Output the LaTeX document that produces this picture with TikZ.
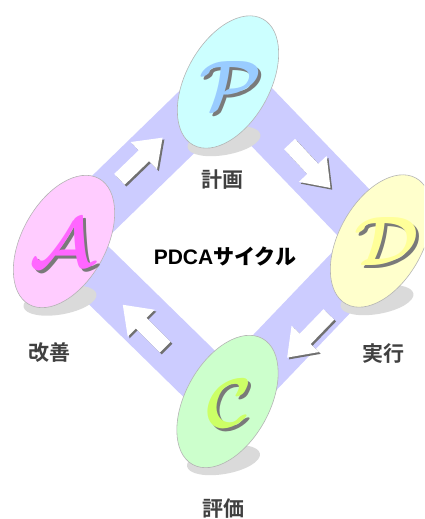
\RequirePackage{fix-cm}
\documentclass[tikz,border=0pt]{standalone}
\usepackage{fontspec}
\setmainfont{Liberation Sans}
\newfontfamily\jpfont{Noto Sans CJK JP Bold}
\usetikzlibrary{shapes.geometric}
\definecolor{bandcol}{HTML}{CCCCFF}
\definecolor{discline}{HTML}{B4B4B4}
\definecolor{groundcol}{HTML}{DADADA}
\definecolor{arrshadow}{HTML}{707070}
\definecolor{lettershadow}{HTML}{7A7A7A}
\definecolor{labelcol}{HTML}{404040}
\definecolor{pfill}{HTML}{CCFFFF}
\definecolor{afill}{HTML}{FFCCFF}
\definecolor{dfill}{HTML}{FFFFCC}
\definecolor{cfill}{HTML}{CCFFCC}
\definecolor{pletter}{HTML}{99CCFF}
\definecolor{aletter}{HTML}{FF66FF}
\definecolor{dletter}{HTML}{FFFF99}
\definecolor{cletter}{HTML}{CCFF66}
\tikzset{
  disc/.style={ellipse, draw=discline, line width=0.6pt, minimum width=84pt,
    minimum height=144pt, inner sep=0pt, rotate=-29},
  ground/.style={ellipse, fill=groundcol, minimum width=74pt, minimum height=28pt,
    inner sep=0pt, rotate=10},
  bigletter/.style={inner sep=0pt, font=\fontsize{70}{70}\selectfont\boldmath},
  steplabel/.style={text=labelcol, font=\jpfont\fontsize{21}{21}\selectfont, inner sep=0pt},
  titlelabel/.style={text=black, inner sep=0pt}
}
% letter with a grey drop shadow, #1 colour, #2 letter
\newcommand\shadowletter[2]{%
  \rlap{\hspace{3pt}\raisebox{-3pt}{\textcolor{lettershadow}{$\mathcal{#2}$}}}%
  \textcolor{#1}{$\mathcal{#2}$}}
\newcommand\blkarrow[2]{%
  \fill[arrshadow, shift={#1}, shift={(1.8,-1.8)}, rotate=#2]
    (-30,-7.5) -- (4,-7.5) -- (4,-19) -- (30,0) -- (4,19) -- (4,7.5) -- (-30,7.5) -- cycle;
  \fill[white, shift={#1}, rotate=#2]
    (-30,-7.5) -- (4,-7.5) -- (4,-19) -- (30,0) -- (4,19) -- (4,7.5) -- (-30,7.5) -- cycle;
}
\begin{document}
\begin{tikzpicture}[x=1pt, y=1pt]
\useasboundingbox (0,0) rectangle (424,519);
\clip (0,0) rectangle (424,519);
% coordinates of disc centres
\coordinate (Pc) at (228,437);
\coordinate (Dc) at (381,278);
\coordinate (Cc) at (227.5,117.5);
\coordinate (Ac) at (64,277.5);
% band
\draw[bandcol, line width=55pt, line join=miter] (Ac) -- (Pc) -- (Dc) -- (Cc) -- cycle;
% ground shadows
\node[ground] (Pg) at (224,378) {};
\node[ground] (Dg) at (377,219) {};
\node[ground] (Cg) at (223.5,59) {};
\node[ground] (Ag) at (60,218.5) {};
% block arrows
\blkarrow{(141,360.5)}{44}
\blkarrow{(310,353)}{-47}
\blkarrow{(308,183)}{-134}
\blkarrow{(144,193)}{135}
% discs
\node[disc, fill=pfill] (P) at (Pc) {};
\node[disc, fill=dfill] (D) at (Dc) {};
\node[disc, fill=cfill] (C) at (Cc) {};
\node[disc, fill=afill] (A) at (Ac) {};
% letters
\node[bigletter] (Pl) at ([xshift=3pt,yshift=-5pt]P.center) {\shadowletter{pletter}{P}};
\node[bigletter] (Dl) at ([xshift=6pt,yshift=-2pt]D.center) {\shadowletter{dletter}{D}};
\node[bigletter] (Cl) at ([xshift=2pt,yshift=-3pt]C.center) {\shadowletter{cletter}{C}};
\node[bigletter] (Al) at ([xshift=-2pt,yshift=-3pt]A.center) {\shadowletter{aletter}{A}};
% labels
\node[steplabel] (Plab) at (222.5,339) {計画};
\node[steplabel] (Dlab) at (383.5,165) {実行};
\node[steplabel] (Clab) at (223.5,10) {評価};
\node[steplabel] (Alab) at (49.5,166) {改善};
\node[titlelabel] (title) at (225,262) {\fontsize{21}{21}\selectfont\bfseries PDCA\jpfont サイクル};
\end{tikzpicture}
\end{document}
